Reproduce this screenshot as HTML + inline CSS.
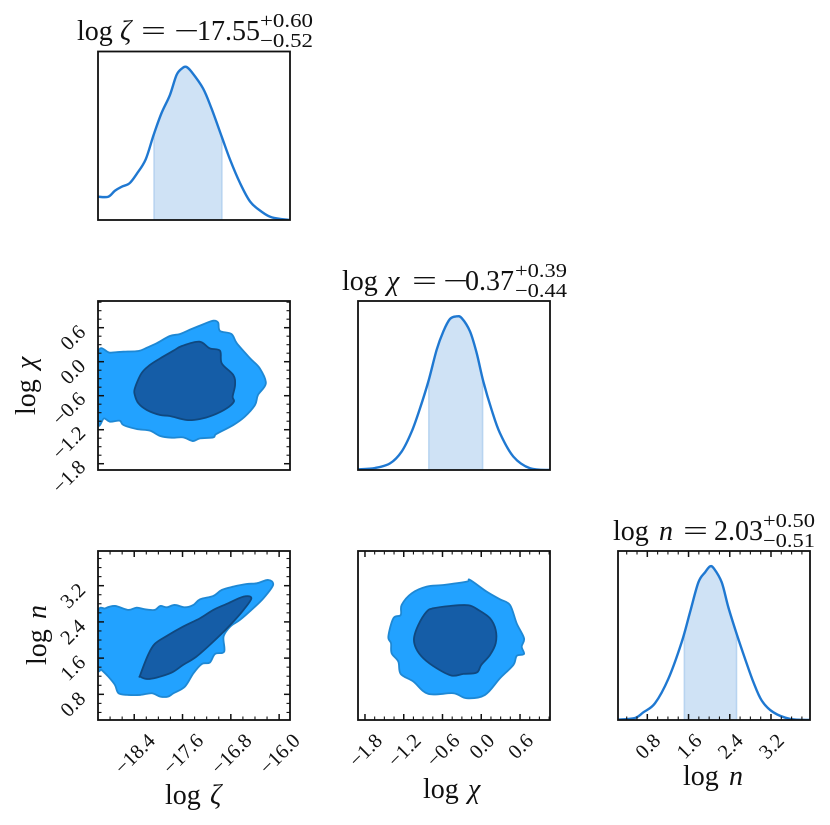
<!DOCTYPE html>
<html lang="en">
<head>
<meta charset="utf-8">
<title>Corner plot</title>
<style>
html,body{margin:0;padding:0;background:#fff;}
svg{display:block;}
text{font-family:"Liberation Serif",serif;fill:#111;}
.m{font-size:28px;}
.s{font-size:20px;}
.i{font-style:italic;}
.t{font-size:20.5px;}
</style>
</head>
<body>
<svg id="fig" xmlns="http://www.w3.org/2000/svg" width="830" height="825" viewBox="0 0 830 825">
<rect x="0" y="0" width="830" height="825" fill="#fff"/>
<g id="plots"></g>

<g>
<text class="m" x="77" y="40">log</text>
<text class="m i" x="120" y="40">ζ</text>
<text class="m" x="141" y="40" textLength="25" lengthAdjust="spacingAndGlyphs">=</text>
<text class="m" x="174" y="40" textLength="25" lengthAdjust="spacingAndGlyphs">−</text>
<text class="m" x="197" y="40">17.55</text>
<text class="s" x="260" y="27" textLength="53" lengthAdjust="spacingAndGlyphs">+0.60</text>
<text class="s" x="260" y="47" textLength="53" lengthAdjust="spacingAndGlyphs">−0.52</text>
</g>
<g>
<text class="m" x="342" y="290">log</text>
<text class="m i" x="387" y="290">χ</text>
<text class="m" x="412" y="290" textLength="25" lengthAdjust="spacingAndGlyphs">=</text>
<text class="m" x="443" y="290" textLength="25" lengthAdjust="spacingAndGlyphs">−</text>
<text class="m" x="465" y="290">0.37</text>
<text class="s" x="515" y="277" textLength="52" lengthAdjust="spacingAndGlyphs">+0.39</text>
<text class="s" x="515" y="297" textLength="52" lengthAdjust="spacingAndGlyphs">−0.44</text>
</g>
<g>
<text class="m" x="613" y="540">log</text>
<text class="m i" x="659" y="540">n</text>
<text class="m" x="683" y="540" textLength="25" lengthAdjust="spacingAndGlyphs">=</text>
<text class="m" x="714" y="540">2.03</text>
<text class="s" x="763" y="527" textLength="52" lengthAdjust="spacingAndGlyphs">+0.50</text>
<text class="s" x="763" y="547" textLength="52" lengthAdjust="spacingAndGlyphs">−0.51</text>
</g>

<g>
<text class="m" x="165" y="804">log</text>
<text class="m i" x="210" y="804">ζ</text>
</g>
<g>
<text class="m" x="423" y="798">log</text>
<text class="m i" x="468" y="798">χ</text>
</g>
<g>
<text class="m" x="683" y="785">log</text>
<text class="m i" x="729" y="785">n</text>
</g>
<g>
<text class="m" transform="translate(35,415) rotate(-90)">log</text>
<text class="m i" transform="translate(35,369) rotate(-90)">χ</text>
</g>
<g>
<text class="m" transform="translate(46,665) rotate(-90)">log</text>
<text class="m i" transform="translate(46,619) rotate(-90)">n</text>
</g>
</svg>

<script>
// ---------- axis data ----------
const zetaDomain = [-19.0, -15.82];
const chiDomainX = [-1.908, 1.064];
const nDomainX = [0.231, 3.957];
const chiDomainY = [-1.911, 1.071];
const nDomainY = [0.233, 3.966];
const densityDomain = [0, 1.1];

const zetaTicks = [-18.4, -17.6, -16.8, -16.0];
const zetaTickLabels = ['−18.4', '−17.6', '−16.8', '−16.0'];
const chiTicks = [-1.8, -1.2, -0.6, 0.0, 0.6];
const chiTickLabels = ['−1.8', '−1.2', '−0.6', '0.0', '0.6'];
const nTicks = [0.8, 1.6, 2.4, 3.2];
const nTickLabels = ['0.8', '1.6', '2.4', '3.2'];

// ---------- 1D marginals ----------
const zetaHistX = [-19.00,-18.83,-18.72,-18.61,-18.48,-18.36,-18.21,-18.08,-17.95,-17.81,-17.70,-17.61,-17.54,-17.45,-17.26,-17.12,-16.95,-16.81,-16.65,-16.48,-16.29,-16.12,-15.83];
const zetaHistY = [0.152,0.152,0.191,0.217,0.239,0.300,0.396,0.554,0.696,0.815,0.946,0.989,1.0,0.967,0.859,0.728,0.543,0.391,0.243,0.120,0.054,0.017,0];
const zetaBand = [-18.07, -16.95];

const chiHistX = [-1.908,-1.645,-1.413,-1.232,-1.077,-0.948,-0.819,-0.690,-0.587,-0.484,-0.381,-0.303,-0.174,-0.071,0.032,0.161,0.290,0.497,0.755,1.064];
const chiHistY = [0.004,0.013,0.043,0.120,0.250,0.402,0.576,0.783,0.902,0.983,1.0,0.989,0.902,0.761,0.576,0.391,0.239,0.087,0.011,0];
const chiBand = [-0.81, 0.02];

const nHistX = [0.231,0.561,0.723,0.949,1.208,1.467,1.629,1.791,1.920,2.017,2.095,2.244,2.373,2.535,2.697,2.859,3.021,3.247,3.571,3.959];
const nHistY = [0.002,0.013,0.050,0.109,0.268,0.507,0.702,0.896,0.961,1.0,0.985,0.896,0.733,0.559,0.398,0.246,0.126,0.050,0.007,0];
const nBand = [1.52, 2.53];

// ---------- 2D contours: zeta vs chi ----------
const zetaChiOuterX = [-19.00,-18.80,-18.58,-18.33,-18.19,-18.03,-17.81,-17.64,-17.45,-17.26,-17.09,-17.01,-16.98,-16.79,-16.70,-16.48,-16.32,-16.22,-16.35,-16.40,-16.57,-16.76,-17.04,-17.09,-17.31,-17.43,-17.59,-17.78,-17.97,-18.14,-18.36,-18.58,-18.64,-18.80,-18.90,-19.00];
const zetaChiOuterY = [0.147,0.159,0.177,0.189,0.247,0.324,0.453,0.489,0.577,0.659,0.724,0.689,0.542,0.489,0.324,0.059,-0.118,-0.382,-0.588,-0.764,-0.971,-1.118,-1.276,-1.335,-1.353,-1.400,-1.335,-1.341,-1.311,-1.217,-1.188,-1.117,-1.041,-1.059,-1.000,-1.059];
const zetaChiInnerX = [-18.39,-18.28,-18.14,-17.97,-17.75,-17.61,-17.32,-17.15,-16.98,-16.95,-16.76,-16.73,-16.77,-16.75,-16.87,-17.09,-17.31,-17.53,-17.81,-17.97,-18.19,-18.33,-18.39];
const zetaChiInnerY = [-0.470,-0.205,-0.058,0.059,0.194,0.277,0.353,0.236,0.194,-0.030,-0.235,-0.411,-0.617,-0.705,-0.823,-0.941,-1.011,-1.029,-0.958,-0.941,-0.853,-0.735,-0.588];

// ---------- 2D contours: zeta vs n ----------
const zetaNOuterX = [-19.00,-18.88,-18.72,-18.50,-18.36,-18.22,-18.06,-17.97,-17.86,-17.73,-17.56,-17.42,-17.31,-17.09,-16.95,-16.76,-16.54,-16.37,-16.18,-16.10,-16.26,-16.43,-16.65,-16.81,-16.92,-16.91,-17.06,-17.15,-17.28,-17.42,-17.56,-17.75,-17.84,-17.97,-18.11,-18.30,-18.50,-18.66,-18.72,-18.83,-18.94,-19.00];
const zetaNOuterY = [2.590,2.700,2.752,2.664,2.715,2.678,2.664,2.752,2.722,2.774,2.722,2.774,2.899,2.973,3.105,3.179,3.237,3.252,3.326,3.215,2.921,2.700,2.443,2.296,2.075,1.744,1.692,1.501,1.471,1.265,0.971,0.824,0.750,0.750,0.824,0.787,0.787,0.824,1.008,1.192,1.339,1.412];
const zetaNInnerX = [-18.30,-18.17,-18.06,-17.86,-17.59,-17.31,-17.09,-16.87,-16.59,-16.46,-16.59,-16.81,-17.09,-17.37,-17.59,-17.78,-18.03,-18.19,-18.30];
const zetaNInnerY = [1.229,1.670,1.913,2.090,2.296,2.480,2.664,2.796,2.958,2.921,2.664,2.332,1.964,1.633,1.450,1.280,1.170,1.140,1.192];

// ---------- 2D contours: chi vs n ----------
const chiNOuterX = [-1.438,-1.361,-1.247,-1.232,-1.077,-0.845,-0.587,-0.226,-0.174,0.084,0.290,0.445,0.548,0.662,0.626,0.662,0.548,0.497,0.290,0.058,-0.226,-0.432,-0.819,-1.051,-1.247,-1.284,-1.387,-1.397];
const chiNOuterY = [2.075,2.480,2.553,2.774,3.031,3.179,3.215,3.289,3.326,3.068,2.899,2.774,2.369,2.038,1.854,1.692,1.648,1.449,1.155,0.787,0.714,0.824,0.809,1.082,1.251,1.523,1.707,1.928];
const chiNInnerX = [-1.041,-0.974,-0.845,-0.742,-0.484,-0.200,-0.045,0.135,0.223,0.223,0.135,0.000,-0.071,-0.277,-0.458,-0.690,-0.897,-1.010];
const chiNInnerY = [2.038,2.332,2.627,2.700,2.752,2.767,2.664,2.480,2.222,1.928,1.670,1.450,1.280,1.251,1.214,1.376,1.597,1.817];

// ---------- drawing helpers ----------
const NS = 'http://www.w3.org/2000/svg';
const root = document.getElementById('plots');
const colX = [[98, 290], [358, 550], [618, 810]];
const rowY = [[51.5, 220], [301, 470], [551, 720]];

function make(tag, parent, attrs) {
  const e = document.createElementNS(NS, tag);
  for (const k in attrs) e.setAttribute(k, attrs[k]);
  parent.appendChild(e);
  return e;
}
function scale(domain, range) {
  return v => range[0] + (v - domain[0]) * (range[1] - range[0]) / (domain[1] - domain[0]);
}
function segment(p0, p1, p2, p3) {
  const c1x = p1[0] + (p2[0] - p0[0]) / 6, c1y = p1[1] + (p2[1] - p0[1]) / 6;
  const c2x = p2[0] - (p3[0] - p1[0]) / 6, c2y = p2[1] - (p3[1] - p1[1]) / 6;
  return 'C' + c1x.toFixed(2) + ' ' + c1y.toFixed(2) + ' ' + c2x.toFixed(2) + ' ' + c2y.toFixed(2) + ' ' + p2[0].toFixed(2) + ' ' + p2[1].toFixed(2);
}
function smoothPath(pts) {
  let d = 'M' + pts[0][0].toFixed(2) + ' ' + pts[0][1].toFixed(2);
  for (let i = 0; i < pts.length - 1; i++) {
    d += segment(pts[Math.max(i - 1, 0)], pts[i], pts[i + 1], pts[Math.min(i + 2, pts.length - 1)]);
  }
  return d;
}
function closedPath(pts) {
  const n = pts.length;
  let d = 'M' + pts[0][0].toFixed(2) + ' ' + pts[0][1].toFixed(2);
  for (let i = 0; i < n; i++) {
    d += segment(pts[(i - 1 + n) % n], pts[i], pts[(i + 1) % n], pts[(i + 2) % n]);
  }
  return d + 'Z';
}
function interp(xs, ys, v) {
  for (let i = 0; i < xs.length - 1; i++) {
    if (v >= xs[i] && v <= xs[i + 1]) {
      return ys[i] + (ys[i + 1] - ys[i]) * (v - xs[i]) / (xs[i + 1] - xs[i]);
    }
  }
  return 0;
}
let clipCount = 0;
function newPanel(name, c, r) {
  const g = make('g', root, {});
  
  
  const X = colX[c], Y = rowY[r];
  const id = 'clip' + (clipCount++);
  const cp = make('clipPath', g, { id: id });
  make('rect', cp, { x: X[0], y: Y[0], width: X[1] - X[0], height: Y[1] - Y[0] });
  const body = make('g', g, { 'clip-path': 'url(#' + id + ')' });
  return { g: g, body: body, X: X, Y: Y };
}
function spine(p) {
  const s = make('rect', p.g, { x: p.X[0], y: p.Y[0], width: p.X[1] - p.X[0], height: p.Y[1] - p.Y[0], fill: 'none', stroke: '#111', 'stroke-width': 1.8 });
  
  
}
function tickPositions(ticks, domain) {
  const step = (ticks[1] - ticks[0]) / 4;
  const lo = Math.min(domain[0], domain[1]), hi = Math.max(domain[0], domain[1]);
  const out = [];
  for (let k = -40; k < 80; k++) {
    const v = ticks[0] + k * step;
    if (v > lo && v < hi) out.push({ v: v, major: k % 4 === 0 && k >= 0 && k / 4 < ticks.length });
  }
  return out;
}
function xTicks(p, ticks, domain) {
  const sx = scale(domain, p.X);
  const g = make('g', p.g, {});
  
  
  tickPositions(ticks, domain).forEach(t => {
    const len = t.major ? 6 : 3.5, w = t.major ? 1.5 : 1.1, x = sx(t.v);
    make('line', g, { x1: x, x2: x, y1: p.Y[0], y2: p.Y[0] + len, stroke: '#111', 'stroke-width': w });
    make('line', g, { x1: x, x2: x, y1: p.Y[1], y2: p.Y[1] - len, stroke: '#111', 'stroke-width': w });
  });
}
function yTicks(p, ticks, domain) {
  const sy = scale(domain, [p.Y[1], p.Y[0]]);
  const g = make('g', p.g, {});
  
  
  tickPositions(ticks, domain).forEach(t => {
    const len = t.major ? 6 : 3.5, w = t.major ? 1.5 : 1.1, y = sy(t.v);
    make('line', g, { x1: p.X[0], x2: p.X[0] + len, y1: y, y2: y, stroke: '#111', 'stroke-width': w });
    make('line', g, { x1: p.X[1], x2: p.X[1] - len, y1: y, y2: y, stroke: '#111', 'stroke-width': w });
  });
}
function xTickLabels(p, ticks, labels, domain, top) {
  const sx = scale(domain, p.X);
  ticks.forEach((v, i) => {
    const t = make('text', p.g, { class: 't', 'text-anchor': 'middle', 'dominant-baseline': 'central' });
    
    
    t.textContent = labels[i];
    const L = t.getComputedTextLength();
    const h = (L + 13) * 0.7071;
    t.setAttribute('transform', 'translate(' + (sx(v) + 1).toFixed(2) + ',' + (top + h / 2).toFixed(2) + ') rotate(-45)');
  });
}
function yTickLabels(p, ticks, labels, domain) {
  const sy = scale(domain, [p.Y[1], p.Y[0]]);
  ticks.forEach((v, i) => {
    const t = make('text', p.g, { class: 't', 'text-anchor': 'middle', 'dominant-baseline': 'central' });
    
    
    t.textContent = labels[i];
    const L = t.getComputedTextLength();
    const h = (L + 13) * 0.7071;
    t.setAttribute('transform', 'translate(' + (87 - h / 2).toFixed(2) + ',' + (sy(v) + h * 0.38).toFixed(2) + ') rotate(-45)');
  });
}
function drawHist(p, xs, ys, band, domain) {
  const sx = scale(domain, p.X);
  const sy = scale(densityDomain, [p.Y[1], p.Y[0]]);
  const inner = [];
  inner.push([band[0], interp(xs, ys, band[0])]);
  xs.forEach((x, i) => { if (x > band[0] && x < band[1]) inner.push([x, ys[i]]); });
  inner.push([band[1], interp(xs, ys, band[1])]);
  const bandPts = inner.map(q => sx(q[0]).toFixed(2) + ',' + sy(q[1]).toFixed(2));
  bandPts.unshift(sx(band[0]).toFixed(2) + ',' + sy(0).toFixed(2));
  bandPts.push(sx(band[1]).toFixed(2) + ',' + sy(0).toFixed(2));
  const b = make('polygon', p.body, { points: bandPts.join(' '), fill: '#cfe2f5', stroke: '#b8d4f0', 'stroke-width': 1.6 });
  
  
  const pts = xs.map((x, i) => [sx(x), sy(ys[i])]);
  const l = make('path', p.body, { d: smoothPath(pts), fill: 'none', stroke: '#1f78d1', 'stroke-width': 2.4, 'stroke-linejoin': 'round' });
  
  
}
function drawContour(p, xs, ys, dx, dy, fill, edge, name) {
  const sx = scale(dx, p.X);
  const sy = scale(dy, [p.Y[1], p.Y[0]]);
  const pts = xs.map((x, i) => [sx(x), sy(ys[i])]);
  const c = make('path', p.body, { d: closedPath(pts), fill: fill, stroke: edge, 'stroke-width': 1.8, 'stroke-linejoin': 'round' });
  
  
}
const outerFill = '#22a2ff', outerEdge = '#1e88d4', innerFill = '#155da7', innerEdge = '#10487f';

// ---------- panels ----------
const p00 = newPanel('marginal-log-zeta', 0, 0);
drawHist(p00, zetaHistX, zetaHistY, zetaBand, zetaDomain);
spine(p00);

const p11 = newPanel('marginal-log-chi', 1, 1);
drawHist(p11, chiHistX, chiHistY, chiBand, chiDomainX);
spine(p11);

const p22 = newPanel('marginal-log-n', 2, 2);
drawHist(p22, nHistX, nHistY, nBand, nDomainX);
xTicks(p22, nTicks, nDomainX);
xTickLabels(p22, nTicks, nTickLabels, nDomainX, 733);
spine(p22);

const p10 = newPanel('contour-zeta-chi', 0, 1);
drawContour(p10, zetaChiOuterX, zetaChiOuterY, zetaDomain, chiDomainY, outerFill, outerEdge, 'contour-outer');
drawContour(p10, zetaChiInnerX, zetaChiInnerY, zetaDomain, chiDomainY, innerFill, innerEdge, 'contour-inner');
yTicks(p10, chiTicks, chiDomainY);
yTickLabels(p10, chiTicks, chiTickLabels, chiDomainY);
spine(p10);

const p20 = newPanel('contour-zeta-n', 0, 2);
drawContour(p20, zetaNOuterX, zetaNOuterY, zetaDomain, nDomainY, outerFill, outerEdge, 'contour-outer');
drawContour(p20, zetaNInnerX, zetaNInnerY, zetaDomain, nDomainY, innerFill, innerEdge, 'contour-inner');
xTicks(p20, zetaTicks, zetaDomain);
yTicks(p20, nTicks, nDomainY);
xTickLabels(p20, zetaTicks, zetaTickLabels, zetaDomain, 733);
yTickLabels(p20, nTicks, nTickLabels, nDomainY);
spine(p20);

const p21 = newPanel('contour-chi-n', 1, 2);
drawContour(p21, chiNOuterX, chiNOuterY, chiDomainX, nDomainY, outerFill, outerEdge, 'contour-outer');
drawContour(p21, chiNInnerX, chiNInnerY, chiDomainX, nDomainY, innerFill, innerEdge, 'contour-inner');
xTicks(p21, chiTicks, chiDomainX);
xTickLabels(p21, chiTicks, chiTickLabels, chiDomainX, 733);
spine(p21);
</script>
</body>
</html>
